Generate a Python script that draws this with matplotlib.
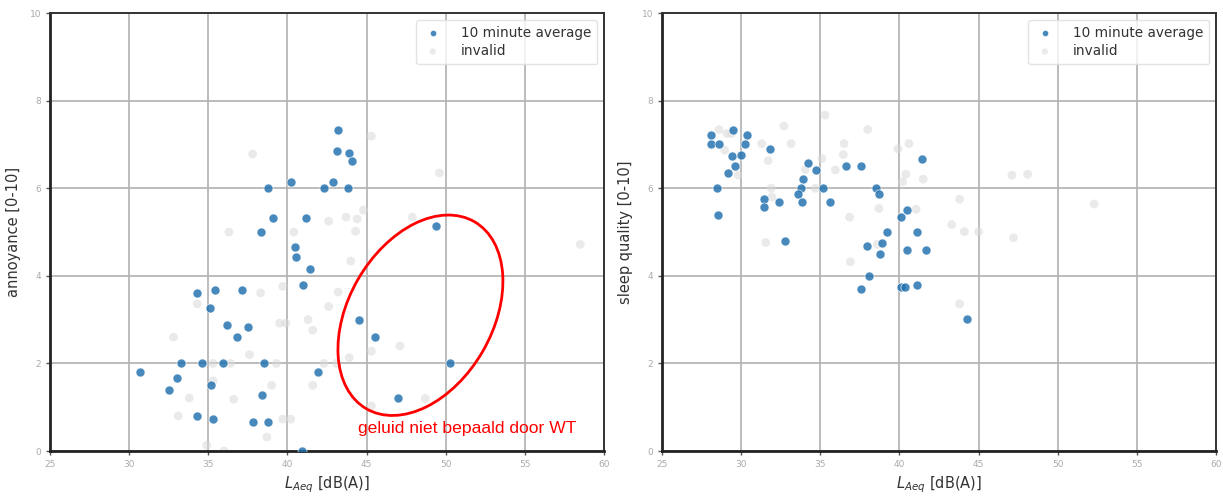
import numpy as np
import matplotlib
matplotlib.use("Agg")
import matplotlib.pyplot as plt
from matplotlib.patches import Ellipse
from matplotlib.transforms import ScaledTranslation

# annoyance vs. LAeq (10 minute averages)
ann_x = [30.7, 32.5, 33.0, 33.3, 34.3, 34.3, 34.6, 35.1, 35.2, 35.3, 35.4, 35.9, 36.2, 36.8,
         37.1, 37.5, 37.8, 38.4, 38.5, 38.8, 38.3, 38.8, 39.1, 40.2, 40.5, 40.55, 41.0, 41.4,
         40.9, 41.9, 41.2, 42.3, 42.9, 43.2, 43.1, 43.8, 43.9, 44.1, 44.5, 45.5, 47.0, 49.4, 50.3]
ann_y = [1.8, 1.4, 1.67, 2.0, 3.61, 0.8, 2.0, 3.26, 1.5, 0.73, 3.67, 2.0, 2.88, 2.6,
         3.67, 2.83, 0.66, 1.28, 2.0, 0.66, 5.0, 6.0, 5.33, 6.15, 4.66, 4.43, 3.8, 4.16,
         0.0, 1.8, 5.33, 6.0, 6.14, 7.33, 6.85, 6.0, 6.8, 6.62, 3.0, 2.6, 1.2, 5.13, 2.0]
ann_inv_x = [37.8, 36.3, 40.4, 45.3, 49.6, 44.8, 42.6, 43.7, 44.4, 44.3, 47.9, 58.5, 44.0, 43.2,
             42.6, 41.3, 41.6, 47.1, 45.3, 43.9, 43.1, 42.3, 41.6, 48.7, 45.3, 38.3, 39.7, 34.3,
             39.5, 39.9, 32.8, 37.6, 35.3, 36.4, 39.3, 35.3, 39.0, 33.8, 36.6, 33.1, 39.7, 40.2,
             38.7, 34.9, 36.0]
ann_inv_y = [6.78, 5.0, 5.0, 7.19, 6.35, 5.5, 5.25, 5.34, 5.3, 5.02, 5.34, 4.72, 4.34, 3.63,
             3.3, 3.0, 2.76, 2.4, 2.28, 2.13, 2.0, 2.0, 1.5, 1.2, 1.03, 3.61, 3.76, 3.36,
             2.92, 2.92, 2.6, 2.2, 2.0, 2.0, 2.0, 1.6, 1.5, 1.21, 1.18, 0.8, 0.73, 0.73,
             0.32, 0.13, 0.0]

# sleep quality vs. LAeq
slp_x = [28.1, 28.1, 28.6, 29.5, 30.35, 30.25, 29.4, 30.0, 29.6, 29.2, 28.5, 28.55, 31.8, 31.45,
         31.45, 32.4, 32.8, 34.25, 34.7, 33.9, 33.8, 33.6, 33.85, 35.2, 35.6, 36.6, 37.6, 37.6,
         41.4, 38.5, 38.7, 40.45, 40.1, 39.2, 41.1, 38.9, 37.95, 38.8, 40.5, 41.7, 38.1, 40.1,
         40.35, 41.1, 44.25]
slp_y = [7.21, 7.02, 7.02, 7.34, 7.21, 7.02, 6.74, 6.77, 6.51, 6.35, 6.0, 5.4, 6.89, 5.76,
         5.58, 5.68, 4.8, 6.58, 6.42, 6.21, 6.01, 5.88, 5.68, 6.0, 5.68, 6.51, 6.51, 3.71,
         6.68, 6.01, 5.86, 5.51, 5.34, 5.0, 5.0, 4.75, 4.68, 4.5, 4.6, 4.6, 4.0, 3.75,
         3.75, 3.79, 3.01]
slp_inv_x = [28.6, 29.1, 29.4, 28.96, 29.8, 32.7, 35.3, 33.15, 31.3, 31.7, 31.9, 31.95, 34.05,
             35.1, 35.95, 36.5, 36.45, 34.7, 36.85, 31.55, 36.9, 38.0, 39.9, 40.6, 40.4, 41.5,
             40.2, 38.7, 41.05, 47.1, 48.1, 52.3, 43.8, 43.3, 44.1, 45.0, 47.2, 43.8, 38.6]
slp_inv_y = [7.34, 7.25, 7.25, 6.87, 6.3, 7.42, 7.67, 7.02, 7.02, 6.63, 6.0, 5.8, 6.43,
             6.68, 6.42, 7.02, 6.77, 6.0, 5.34, 4.76, 4.32, 7.34, 6.9, 7.02, 6.32, 6.21,
             6.15, 5.54, 5.52, 6.3, 6.32, 5.64, 5.75, 5.17, 5.01, 5.01, 4.87, 3.36, 4.72]

xticks = [25, 30, 35, 40, 45, 50, 55, 60]
yticks = [0, 2, 4, 6, 8, 10]

fig = plt.figure(figsize=(12.23, 5.01), dpi=100)
ax1 = fig.add_axes([0.0409, 0.0998, 0.453, 0.874])
ax2 = fig.add_axes([0.5413, 0.0998, 0.453, 0.874])

panels = [
    (ax1, ann_x, ann_y, ann_inv_x, ann_inv_y, "annoyance [0-10]"),
    (ax2, slp_x, slp_y, slp_inv_x, slp_inv_y, "sleep quality [0-10]"),
]

for ax, x, y, xi, yi, ylab in panels:
    inv = ax.scatter(xi, yi, s=40, color="#d9d9d9", alpha=0.55, edgecolors="none",
                     zorder=2, label="invalid")
    avg = ax.scatter(x, y, s=42, color="#1f6fad", alpha=0.82, edgecolors="white",
                     linewidths=0.5, zorder=3, label="10 minute average")
    ax.set_xlim(25, 60)
    ax.set_ylim(0, 10)
    ax.set_xticks(xticks)
    ax.set_yticks(yticks)
    ax.grid(True, color="#b0b0b0", linewidth=1.2)
    ax.set_axisbelow(True)
    ax.tick_params(labelsize=6.5, labelcolor="#aaaaaa", color="#555555", length=3, width=1)
    for side in ["top", "right"]:
        ax.spines[side].set_linewidth(1.4)
        ax.spines[side].set_color("#333333")
    for side in ["left", "bottom"]:
        ax.spines[side].set_linewidth(2)
        ax.spines[side].set_color("#222222")
    ax.set_xlabel("$L_{Aeq}$ [dB(A)]", fontsize=10.5, color="#333333", labelpad=4)
    ax.set_ylabel(ylab, fontsize=10.5, color="#333333", labelpad=6)
    leg = ax.legend([avg, inv], ["10 minute average", "invalid"], loc="upper right",
                    fontsize=9.8, handlelength=1.5, handletextpad=1.3, borderpad=0.45,
                    labelspacing=0.3, markerscale=0.7, framealpha=0.8)
    leg.get_frame().set_edgecolor("#dddddd")
    for t in leg.get_texts():
        t.set_color("#333333")

# red ellipse around the points not caused by the turbines
ell_center = (48.4, 3.1)
ell = Ellipse((0, 0), width=2.16, height=1.44, angle=60, fill=False,
              edgecolor="red", linewidth=2,
              transform=fig.dpi_scale_trans + ScaledTranslation(*ell_center, ax1.transData),
              zorder=4)
ax1.add_patch(ell)
ax1.text(44.45, 0.52, "geluid niet bepaald door WT", color="red", fontsize=12.6,
         family="Liberation Sans", va="center", ha="left", zorder=5)

fig.savefig("out.png", dpi=100)
